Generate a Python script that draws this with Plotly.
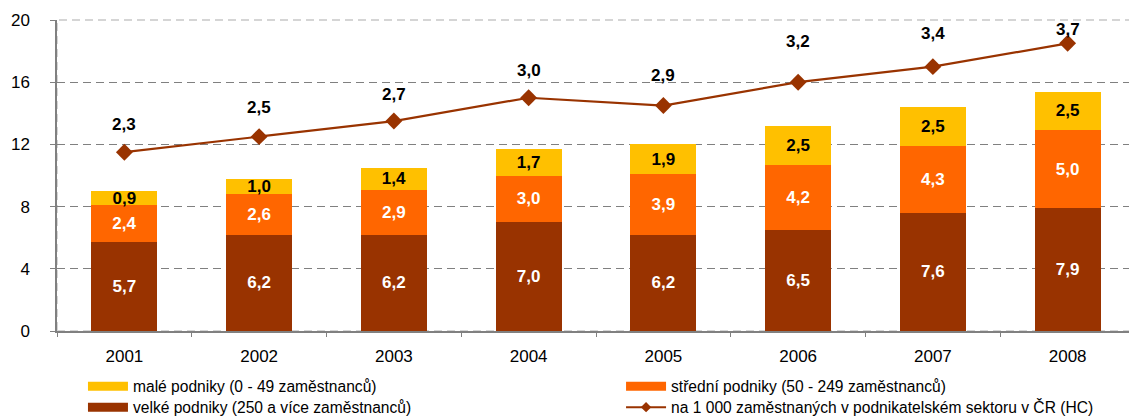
import plotly.graph_objects as go

years = ["2001", "2002", "2003", "2004", "2005", "2006", "2007", "2008"]
velke = [5.7, 6.2, 6.2, 7.0, 6.2, 6.5, 7.6, 7.9]
stredni = [2.4, 2.6, 2.9, 3.0, 3.9, 4.2, 4.3, 5.0]
male = [0.9, 1.0, 1.4, 1.7, 1.9, 2.5, 2.5, 2.5]
na1000 = [2.3, 2.5, 2.7, 3.0, 2.9, 3.2, 3.4, 3.7]

# style: pixel offsets of the line's value labels above their points
label_shift_px = [28, 29, 27, 27, 30, 41, 33, 14]

names = {
    "male": "malé podniky (0 - 49 zaměstnanců)",
    "stredni": "střední podniky (50 - 249 zaměstnanců)",
    "velke": "velké podniky (250 a více zaměstnanců)",
    "line": "na 1 000 zaměstnaných v podnikatelském sektoru v ČR (HC)",
}
C_VELKE = "#993300"
C_STREDNI = "#FF6600"
C_MALE = "#FFC000"

FONT = "Liberation Sans, Arial, sans-serif"
fig = go.Figure()

def bar(vals, color, txtcolor):
    return go.Bar(
        x=years, y=vals, marker=dict(color=color, line=dict(width=0)),
        texttemplate="%{y:.1f}", textposition="inside", insidetextanchor="middle",
        constraintext="none",
        textfont=dict(color=txtcolor, size=17, family=FONT, weight="bold"),
        showlegend=False, hoverinfo="skip",
    )

fig.add_trace(bar(velke, C_VELKE, "white"))
fig.add_trace(bar(stredni, C_STREDNI, "white"))
fig.add_trace(bar(male, C_MALE, "black"))

fig.add_trace(go.Scatter(
    x=years, y=na1000, yaxis="y2", mode="lines+markers",
    line=dict(color=C_VELKE, width=2.2),
    marker=dict(symbol="diamond", size=13, color=C_VELKE),
    showlegend=False, hoverinfo="skip", cliponaxis=False,
))

# value labels above the line points (x given as category index so that
# numeric-looking category names are not read as numbers)
for i, (v, dy) in enumerate(zip(na1000, label_shift_px)):
    fig.add_annotation(x=i, xref="x", y=v, yref="y2",
                       text=f"<b>{v:.1f}</b>".replace(".", ","),
                       showarrow=False, yshift=dy,
                       font=dict(size=17, color="black", family=FONT))

# legend entries: one legend per entry, laid out in a 2x2 grid
fig.add_trace(go.Scatter(x=[years[0]], y=[None], mode="lines", name=names["male"],
                         line=dict(color=C_MALE, width=9), legend="legend"))
fig.add_trace(go.Scatter(x=[years[0]], y=[None], mode="lines", name=names["stredni"],
                         line=dict(color=C_STREDNI, width=9), legend="legend2"))
fig.add_trace(go.Scatter(x=[years[0]], y=[None], mode="lines", name=names["velke"],
                         line=dict(color=C_VELKE, width=9), legend="legend3"))
fig.add_trace(go.Scatter(x=[years[0]], y=[None], mode="lines+markers", name=names["line"],
                         line=dict(color=C_VELKE, width=2),
                         marker=dict(symbol="diamond", size=8, color=C_VELKE),
                         legend="legend4"))

leg_common = dict(orientation="v", yref="container", yanchor="top",
                  xref="container", xanchor="left", font=dict(size=15.6),
                  traceorder="normal", bgcolor="rgba(0,0,0,0)", tracegroupgap=0,
                  itemwidth=40)
COL1, COL2 = 0.0664, 0.543
ROW1, ROW2 = 0.114, 0.0625

fig.update_layout(
    width=1129, height=408,
    barmode="stack", bargap=0.51,
    separators=", ",
    paper_bgcolor="white", plot_bgcolor="white",
    margin=dict(l=49, r=2, t=12, b=85, autoexpand=False),
    font=dict(family=FONT, size=17, color="black"),
    xaxis=dict(
        type="category", showline=True, linecolor="#808080", linewidth=1.5,
        ticks="outside", tickson="boundaries", ticklen=4, tickcolor="#808080",
        tickfont=dict(size=17), showgrid=False, automargin=False,
        ticklabelstandoff=9,
    ),
    yaxis=dict(
        range=[0, 20], tickvals=[0, 4, 8, 12, 16, 20], showline=True,
        linecolor="#808080", linewidth=1.5, ticks="outside", ticklen=5,
        tickcolor="#808080", tickfont=dict(size=17), showgrid=True,
        gridcolor="#808080", griddash="8px,5px", gridwidth=1.2, zeroline=False,
        ticklabelstandoff=17, automargin=False,
    ),
    yaxis2=dict(range=[0, 4], overlaying="y", side="right", visible=False),
    legend=dict(x=COL1, y=ROW1, **leg_common),
    legend2=dict(x=COL2, y=ROW1, **leg_common),
    legend3=dict(x=COL1, y=ROW2, **leg_common),
    legend4=dict(x=COL2, y=ROW2, **leg_common),
    shapes=[
        dict(type="line", xref="paper", yref="paper", x0=0, x1=1, y0=1, y1=1,
             line=dict(color="white", width=3), layer="between"),
        dict(type="rect", xref="paper", yref="paper", x0=0, x1=1, y0=0, y1=1,
             line=dict(color="#C8C8C8", width=1.5, dash="8px,5px"), layer="between"),
    ],
)

fig.write_html("out.html")
